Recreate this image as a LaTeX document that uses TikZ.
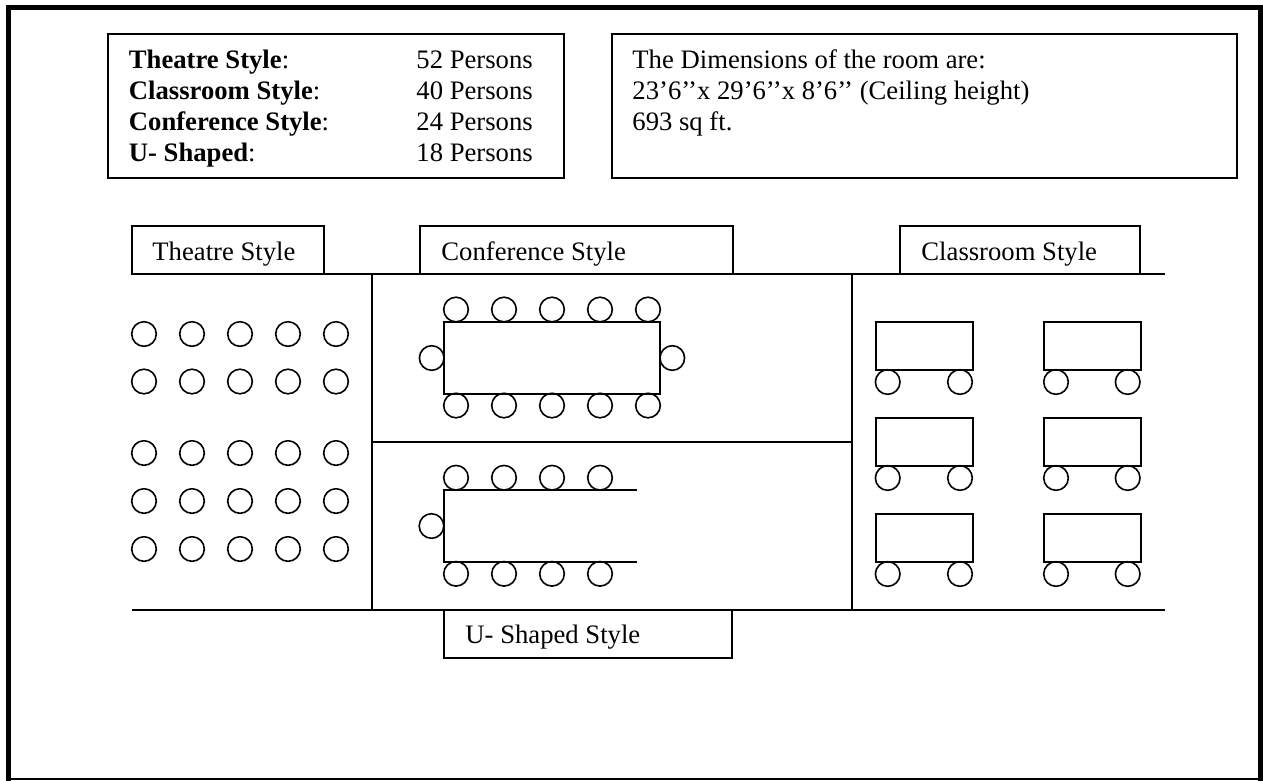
\documentclass[tikz,border=0pt]{standalone}
\usepackage{fontspec}
\setmainfont{Liberation Serif}
\tikzset{
  wall/.style={line width=0.9pt},
  desk/.style={line width=0.9pt},
  seat/.style={line width=0.72pt},
  caption/.style={anchor=base west, inner sep=0pt, font=\fontsize{12}{12}\selectfont},
}
\begin{document}
\begin{tikzpicture}[x=0.45pt, y=-0.45pt]
\useasboundingbox (0,0) rectangle (1263,780);

% Page frame
\draw[line width=2.25pt] (8.5,790) -- (8.5,7) -- (1260.5,7) -- (1260.5,790);
\draw[wall] (8.5,779) -- (1260.5,779);

% Capacity box
\draw[wall] (107.5,33.5) rectangle (564,178);
\node[caption] (capA) at (128.5,68) {\textbf{Theatre Style}:};
\node[caption] (capB) at (128.5,99) {\textbf{Classroom Style}:};
\node[caption] (capC) at (128.5,130) {\textbf{Conference Style}:};
\node[caption] (capD) at (128.5,161) {\textbf{U- Shaped}:};
\node[caption] (numA) at (416,68) {52 Persons};
\node[caption] (numB) at (416,99) {40 Persons};
\node[caption] (numC) at (416,130) {24 Persons};
\node[caption] (numD) at (416,161) {18 Persons};

% Dimensions box
\draw[wall] (611.5,33.5) rectangle (1237,178);
\node[caption] (dimA) at (632,68) {The Dimensions of the room are:};
\node[caption] (dimB) at (632,99) {23’6’{}’x 29’6’{}’x 8’6’{}’ (Ceiling height)};
\node[caption] (dimC) at (632,130) {693 sq ft.};

\begin{scope}[wall]
% Room outline
\draw (132,273.5) -- (1165,273.5);
\draw (132,609.5) -- (1165,609.5);
\draw (372,273.5) -- (372,609.5);
\draw (852,273.5) -- (852,609.5);
\draw (372,441.5) -- (852,441.5);

% Style labels
\draw (132,273.5) rectangle (324,226);
\draw (419.5,273.5) rectangle (733,226);
\draw (900,273.5) rectangle (1140,226);
\draw (444,609.5) rectangle (732,658);
\end{scope}

\node[caption] (theatre) at (152,260) {Theatre Style};
\node[caption] (conference) at (441,260) {Conference Style};
\node[caption] (classroom) at (921,260) {Classroom Style};
\node[caption] (ushaped) at (465,643) {U- Shaped Style};

\begin{scope}[desk]
% Conference table
\draw (444,321.5) rectangle (660,393.5);

% U-shaped table
\draw (636.5,490) -- (444,490) -- (444,561.5) -- (636.5,561.5);

% Classroom tables, left column
\draw (875.5,321.5) rectangle (972.5,369.5);
\draw (875.5,418) rectangle (972.5,465.5);
\draw (875.5,514) rectangle (972.5,562);

% Classroom tables, right column
\draw (1043.5,321.5) rectangle (1140.5,369.5);
\draw (1043.5,418) rectangle (1140.5,465.5);
\draw (1043.5,514) rectangle (1140.5,562);
\end{scope}

\begin{scope}[seat]
% Theatre seats
\draw (144,334) circle (12.3) (192,334) circle (12.3) (240,334) circle (12.3) (288,334) circle (12.3) (336,334) circle (12.3);
\draw (144,381.5) circle (12.3) (192,381.5) circle (12.3) (240,381.5) circle (12.3) (288,381.5) circle (12.3) (336,381.5) circle (12.3);
\draw (144,453) circle (12.3) (192,453) circle (12.3) (240,453) circle (12.3) (288,453) circle (12.3) (336,453) circle (12.3);
\draw (144,501) circle (12.3) (192,501) circle (12.3) (240,501) circle (12.3) (288,501) circle (12.3) (336,501) circle (12.3);
\draw (144,549) circle (12.3) (192,549) circle (12.3) (240,549) circle (12.3) (288,549) circle (12.3) (336,549) circle (12.3);

% Conference seats
\draw (456,309.5) circle (12.3) (504,309.5) circle (12.3) (552,309.5) circle (12.3) (600,309.5) circle (12.3) (648,309.5) circle (12.3);
\draw (456,405.5) circle (12.3) (504,405.5) circle (12.3) (552,405.5) circle (12.3) (600,405.5) circle (12.3) (648,405.5) circle (12.3);
\draw (431.7,358) circle (12.3) (672.3,358) circle (12.3);

% U-shaped seats
\draw (456,477.7) circle (12.3) (504,477.7) circle (12.3) (552,477.7) circle (12.3) (600,477.7) circle (12.3);
\draw (456,573.8) circle (12.3) (504,573.8) circle (12.3) (552,573.8) circle (12.3) (600,573.8) circle (12.3);
\draw (431.5,526) circle (12.3);

% Classroom seats
\draw (887.7,382) circle (12.3) (960,382) circle (12.3);
\draw (887.7,478) circle (12.3) (960,478) circle (12.3);
\draw (887.7,574) circle (12.3) (960,574) circle (12.3);
\draw (1056,382) circle (12.3) (1127.7,382) circle (12.3);
\draw (1056,478) circle (12.3) (1127.7,478) circle (12.3);
\draw (1056,574) circle (12.3) (1127.7,574) circle (12.3);
\end{scope}

\end{tikzpicture}
\end{document}
